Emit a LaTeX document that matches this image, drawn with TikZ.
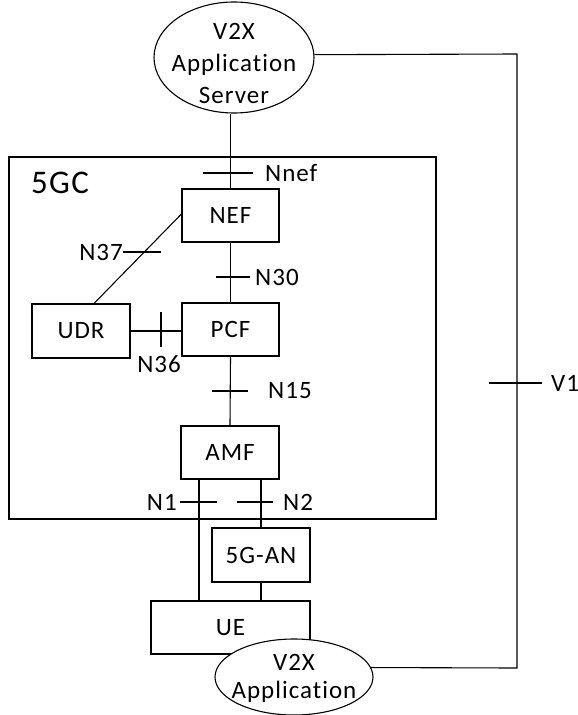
\documentclass[tikz,border=0pt]{standalone}
\usepackage{fontspec}
\setmainfont{Carlito}[LetterSpace=4, Ligatures={NoCommon, NoRequired}]
\usetikzlibrary{shapes.geometric}
\tikzset{
  box/.style={draw, line width=1.1pt, rectangle, fill=white, inner sep=0pt, font=\fontsize{25}{30}\selectfont},
  oval/.style={draw, line width=1.1pt, ellipse, fill=white, inner sep=0pt},
  lbl/.style={inner sep=0pt, font=\fontsize{25}{30}\selectfont},
  ln/.style={line width=1.1pt},
}
\begin{document}
\begin{tikzpicture}[x=1pt,y=-1pt]
\useasboundingbox (0,0) rectangle (578,715);
% 5GC frame
\node[draw, line width=1.1pt, rectangle, minimum width=427pt, minimum height=362pt, inner sep=0pt] (core) at (222.5,338) {};
\node[inner sep=0pt, font=\fontsize{33}{36}\selectfont] (corelbl) at (60,183) {5GC};
% nodes
\node[oval, minimum width=160pt, minimum height=111pt] (server) at (234,57.5) {};
\node[inner sep=0pt, align=center, font=\fontsize{25}{32}\selectfont] (servertext) at (234,63) {V2X\\Application\\Server};
\node[box, minimum width=97pt, minimum height=53pt] (nef) at (230.5,215.5) {NEF};
\node[box, minimum width=97pt, minimum height=53pt] (pcf) at (230.5,329.5) {PCF};
\node[box, minimum width=98pt, minimum height=54pt] (udr) at (81,331) {UDR};
\node[box, minimum width=98pt, minimum height=53pt] (amf) at (230,452.5) {AMF};
\node[box, minimum width=98pt, minimum height=54pt] (an) at (261,555) {5G-AN};
\node[box, minimum width=159pt, minimum height=53pt] (ue) at (230.5,627.5) {UE};
\node[oval, minimum width=158pt, minimum height=76pt] (app) at (294,677) {};
\node[inner sep=0pt, align=center, font=\fontsize{25}{28}\selectfont] (apptext) at (294,678) {V2X\\Application};
% connectors
\draw[ln] (nef.north) -- (nef.north |- server.south);
\draw[ln] (nef.south) -- (pcf.north);
\draw[ln] (pcf.south) -- (amf.north);
\draw[ln] (udr.east) -- (udr.east -| pcf.west);
\draw[ln] (udr.north -| 94,0) -- (nef.west |- 0,214);
\draw[ln] (amf.south -| 199,0) -- (ue.north -| 199,0);
\draw[ln] (amf.south -| an.north) -- (an.north);
\draw[ln] (an.south) -- (ue.north -| an.south);
\coordinate (corner1) at (517,54);
\coordinate (corner2) at (517,668);
\draw[ln] (server.2) -- (corner1) -- (corner2) -- (app.7);
% ticks
\draw[ln] (203,173) -- (253,173);
\node[lbl, anchor=west] (nnef) at (265,173) {Nnef};
\draw[ln] (216,277) -- (250,277);
\node[lbl, anchor=west] (n30) at (255,277) {N30};
\draw[ln] (161,312) -- (161,347);
\node[lbl] (n36) at (159,364) {N36};
\draw[ln] (123,252) -- (161,252);
\node[lbl, anchor=east] (n37) at (123,252) {N37};
\draw[ln] (212,391) -- (248,391);
\node[lbl, anchor=west] (n15) at (268,391) {N15};
\draw[ln] (180,502) -- (217,502);
\node[lbl, anchor=east] (n1) at (177,502) {N1};
\draw[ln] (237,502) -- (273,502);
\node[lbl, anchor=west] (n2) at (283,502) {N2};
\draw[ln] (489,383) -- (542,383);
\node[lbl, anchor=west] (v1) at (551,383) {V1};
\end{tikzpicture}
\end{document}
